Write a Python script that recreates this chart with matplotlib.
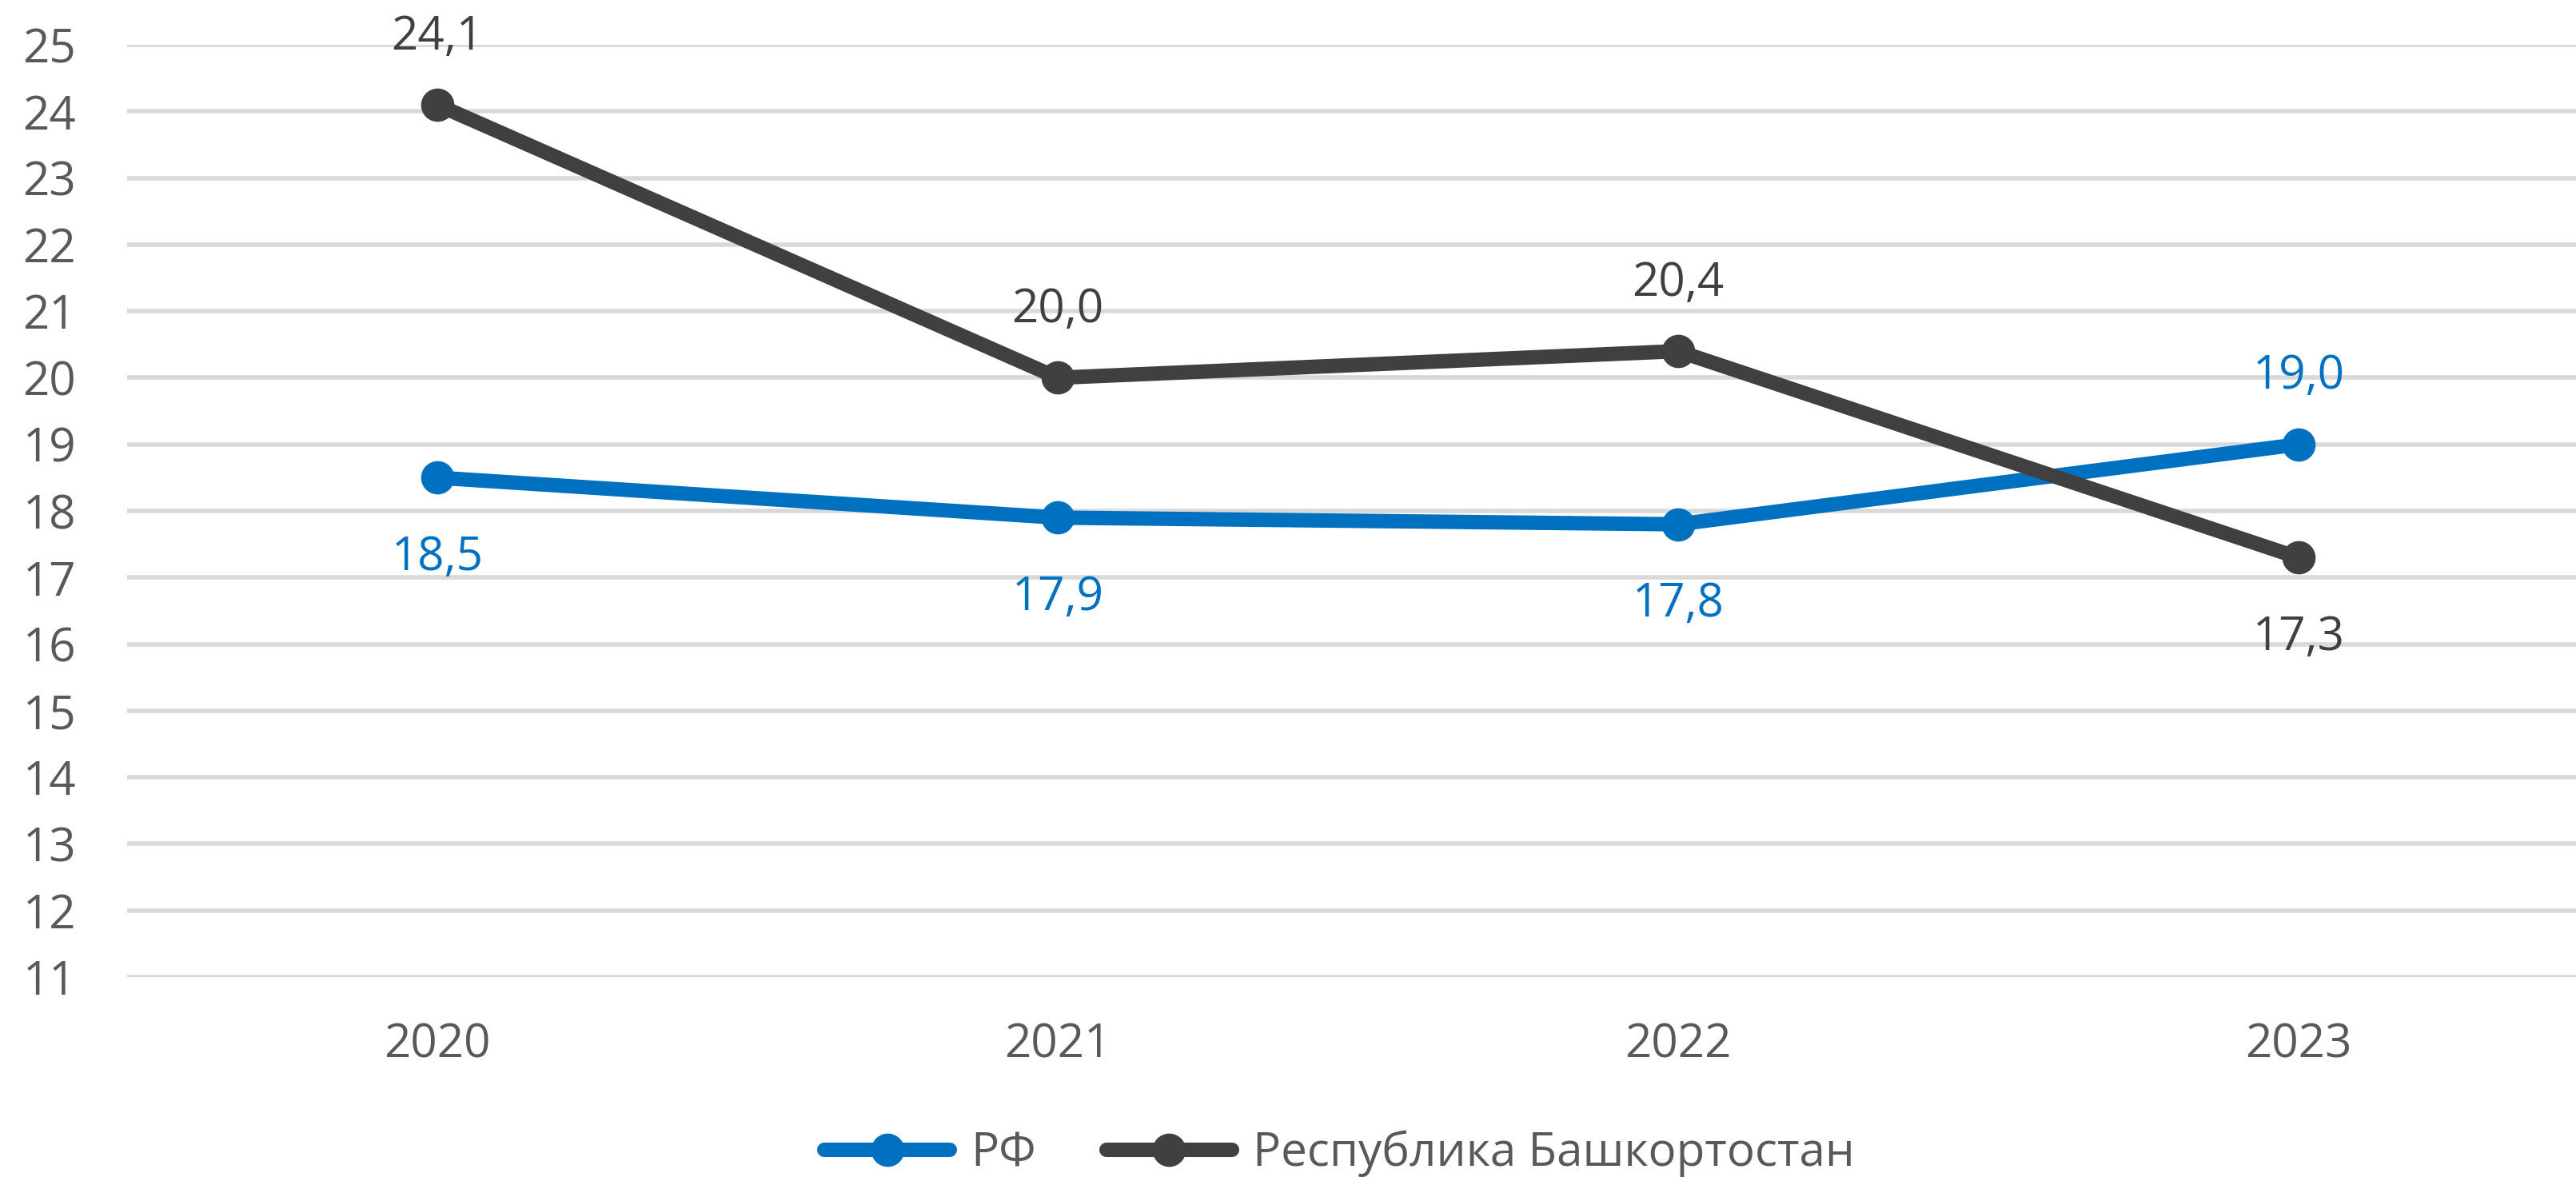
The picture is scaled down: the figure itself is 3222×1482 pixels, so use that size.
import matplotlib
matplotlib.use("Agg")
import matplotlib.pyplot as plt

years = ["2020", "2021", "2022", "2023"]
rf = [18.5, 17.9, 17.8, 19.0]
rb = [24.1, 20.0, 20.4, 17.3]
rf_labels = ["18,5", "17,9", "17,8", "19,0"]
rb_labels = ["24,1", "20,0", "20,4", "17,3"]
rf_above = [False, False, False, True]
rb_above = [True, True, True, False]
y_ticks = list(range(11, 26))

BLUE = "#0070C0"
DARK = "#404040"
TXT = "#595959"

plt.rcParams["font.family"] = ["Open Sans", "DejaVu Sans"]

fig = plt.figure(figsize=(32.22, 14.82), dpi=100)
ax = fig.add_axes([0.0493, 0.1754, 0.9634, 0.7868])

x = list(range(len(years)))
ax.plot(x, rf, color=BLUE, lw=13, marker="o", ms=29, label="РФ",
        solid_capstyle="round", zorder=3)
ax.plot(x, rb, color=DARK, lw=13, marker="o", ms=29, label="Республика Башкортостан",
        solid_capstyle="round", zorder=3)

for xi, v, lab, up in zip(x, rf, rf_labels, rf_above):
    ax.annotate(lab, (xi, v), xytext=(0, 50 if up else -83), textcoords="offset points",
                ha="center", va="baseline", fontsize=42, color=BLUE)
for xi, v, lab, up in zip(x, rb, rb_labels, rb_above):
    ax.annotate(lab, (xi, v), xytext=(0, 50 if up else -83), textcoords="offset points",
                ha="center", va="baseline", fontsize=42, color=DARK)

ax.set_xlim(-0.5, 3.5)
ax.set_ylim(11, 25)
ax.set_yticks(y_ticks)
ax.set_xticks(x)
ax.set_xticklabels(years)
ax.tick_params(axis="both", length=0, labelsize=42, labelcolor=TXT)
ax.tick_params(axis="y", pad=46)
ax.tick_params(axis="x", pad=40)
ax.grid(axis="y", color="#D9D9D9", lw=4)
ax.set_axisbelow(True)
for s in ax.spines.values():
    s.set_visible(False)

# legend sits at the very bottom edge, like in the original
fig.legend(loc="center", bbox_to_anchor=(0.52, 1 - 1443 / 1482), ncol=2, frameon=False,
           fontsize=42, handlelength=2.7, handletextpad=0.45, columnspacing=1.5,
           labelcolor=TXT, borderpad=0.1)

fig.savefig("out.png", dpi=100)
